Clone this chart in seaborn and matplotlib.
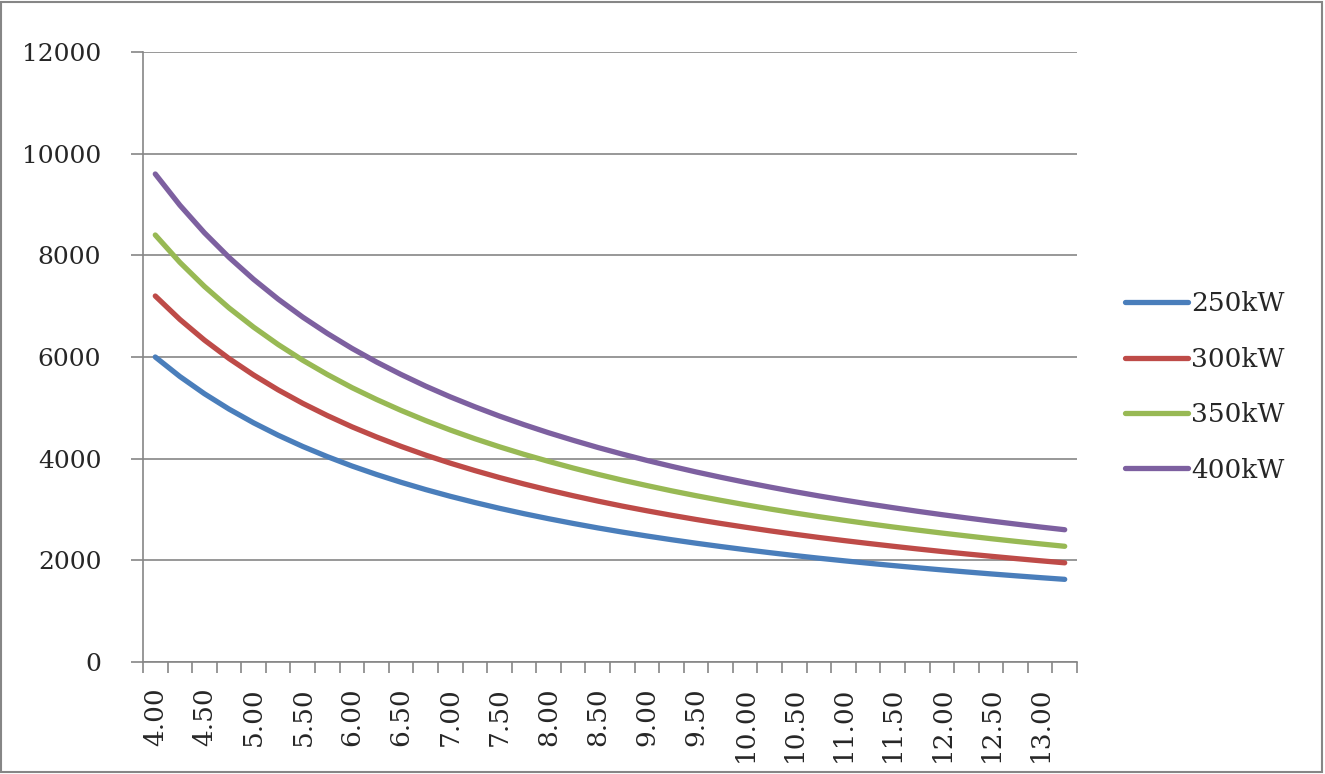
import pandas as pd
import matplotlib.pyplot as plt
import seaborn as sns
from matplotlib.patches import Rectangle

sns.set_style('white')
plt.rcParams['font.family'] = ['DejaVu Serif']

# x categories (step 0.25, labelled every 0.50)
x_vals = [4.00, 4.25, 4.50, 4.75, 5.00, 5.25, 5.50, 5.75, 6.00, 6.25,
          6.50, 6.75, 7.00, 7.25, 7.50, 7.75, 8.00, 8.25, 8.50, 8.75,
          9.00, 9.25, 9.50, 9.75, 10.00, 10.25, 10.50, 10.75, 11.00, 11.25,
          11.50, 11.75, 12.00, 12.25, 12.50, 12.75, 13.00, 13.25]

kw250 = [6000, 5616, 5277, 4975, 4705, 4461, 4240, 4040, 3856, 3689,
         3535, 3392, 3260, 3138, 3024, 2918, 2819, 2726, 2638, 2556,
         2479, 2406, 2337, 2272, 2210, 2151, 2095, 2042, 1992, 1944,
         1898, 1854, 1812, 1772, 1733, 1696, 1660, 1626]
kw300 = [7200, 6739, 6332, 5970, 5646, 5353, 5088, 4848, 4627, 4427,
         4242, 4070, 3912, 3766, 3629, 3502, 3383, 3271, 3166, 3067,
         2975, 2887, 2804, 2726, 2652, 2581, 2514, 2450, 2390, 2333,
         2278, 2225, 2174, 2126, 2080, 2035, 1992, 1951]
kw350 = [8400, 7862, 7388, 6965, 6587, 6245, 5936, 5656, 5398, 5165,
         4949, 4749, 4564, 4393, 4234, 4085, 3947, 3816, 3693, 3578,
         3471, 3368, 3272, 3181, 3094, 3011, 2933, 2859, 2789, 2722,
         2657, 2596, 2537, 2481, 2426, 2374, 2324, 2276]
kw400 = [9600, 8986, 8443, 7960, 7528, 7138, 6784, 6464, 6170, 5902,
         5656, 5427, 5216, 5021, 4838, 4669, 4510, 4362, 4221, 4090,
         3966, 3850, 3739, 3635, 3536, 3442, 3352, 3267, 3187, 3110,
         3037, 2966, 2899, 2835, 2773, 2714, 2656, 2602]

series_names = ['250kW', '300kW', '350kW', '400kW']
colors = ['#4A7EBB', '#BE4B48', '#98B954', '#7D60A0']

rows = []
for name, vals in zip(series_names, [kw250, kw300, kw350, kw400]):
    for i, v in enumerate(vals):
        rows.append({'idx': i, 'value': v, 'series': name})
df = pd.DataFrame(rows)

fig = plt.figure(figsize=(13.25, 7.74), dpi=100)
ax = fig.add_axes([143/1325, 1 - 662/774, (1077 - 143)/1325, (662 - 52)/774])

sns.lineplot(data=df, x='idx', y='value', hue='series', palette=colors,
             linewidth=3.8, ax=ax, legend=True)
for line in ax.lines:
    line.set_solid_capstyle('round')

n = len(x_vals)
ax.set_xlim(-0.5, n - 0.5)
ax.set_ylim(0, 12000)
ax.set_yticks(range(0, 12001, 2000))
ax.yaxis.grid(True, color='#868686', linewidth=1.2)
ax.set_axisbelow(True)

# tick marks at category boundaries, labels at every other category
ax.set_xticks([i - 0.5 for i in range(n + 1)])
ax.set_xticklabels([])
ax.set_xticks(list(range(0, n, 2)), minor=True)
ax.set_xticklabels(['%.2f' % x_vals[i] for i in range(0, n, 2)], minor=True,
                   rotation=90, fontsize=19)
ax.tick_params(axis='x', which='major', direction='out', length=8,
               color='#868686', width=1.2, bottom=True)
ax.tick_params(axis='x', which='minor', length=0, pad=18)
ax.tick_params(axis='y', direction='out', length=9, color='#868686',
               width=1.2, left=True, labelsize=18, pad=21)

for s in ['top', 'right']:
    ax.spines[s].set_visible(False)
for s in ['left', 'bottom']:
    ax.spines[s].set_color('#868686')
    ax.spines[s].set_linewidth(1.2)

ax.set_xlabel('')
ax.set_ylabel('')

handles, labels = ax.get_legend_handles_labels()
ax.legend(handles, labels, loc='center left',
          bbox_to_anchor=(1125/1325, 1 - 387/774),
          bbox_transform=fig.transFigure, frameon=False, fontsize=19,
          handlelength=2.4, handletextpad=0.1, labelspacing=1.15,
          borderpad=0, borderaxespad=0)

fig.patches.append(Rectangle((0.001, 0.002), 0.997, 0.996,
                             transform=fig.transFigure, fill=False,
                             edgecolor='#868686', linewidth=1.5))

plt.savefig('out.png', dpi=100)
